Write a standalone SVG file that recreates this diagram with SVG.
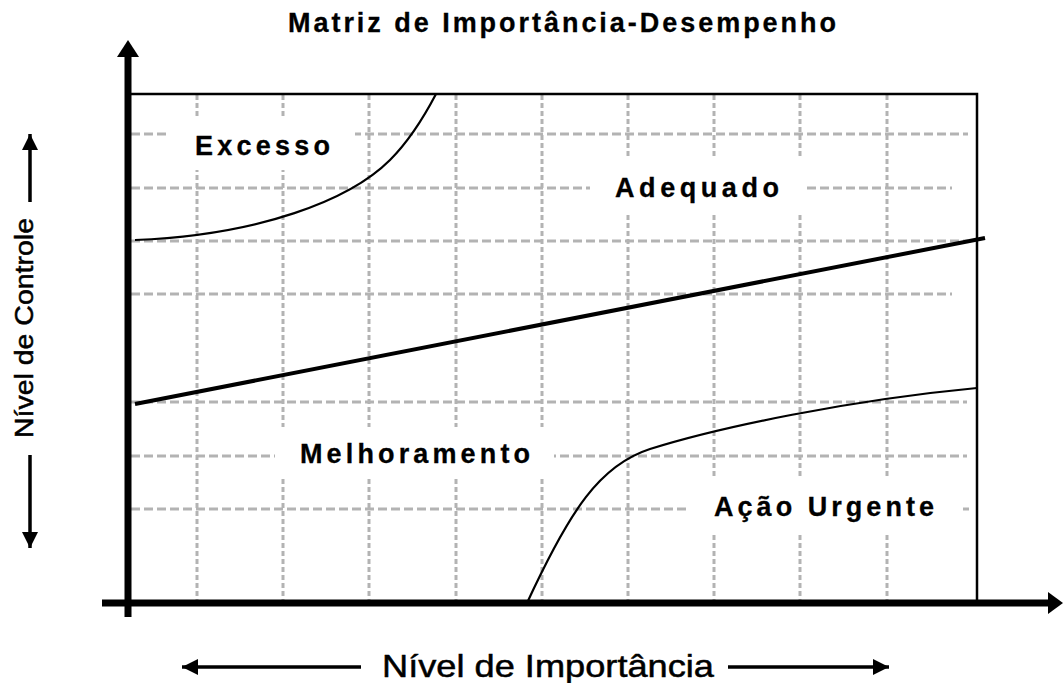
<svg xmlns="http://www.w3.org/2000/svg" width="1063" height="683" viewBox="0 0 1063 683">
  <defs>
    <marker id="ah" viewBox="0 0 10 10" refX="10" refY="5" markerUnits="userSpaceOnUse" markerWidth="17" markerHeight="16" orient="auto-start-reverse">
      <path d="M0,0 L10,5 L0,10 z" fill="#000"/>
    </marker>
  </defs>
  <style>
    .h { stroke: #b3b3b3; stroke-width: 3; stroke-dasharray: 9 4; fill: none; }
    .v { stroke: #b3b3b3; stroke-width: 3; stroke-dasharray: 5 3; fill: none; }
    .ko { fill: #fff; stroke: none; }
    .curve { stroke: #000; stroke-width: 2.2; fill: none; }
    .box { stroke: #000; stroke-width: 2.5; fill: none; }
    .axis { stroke: #000; stroke-width: 7; fill: none; }
    .lbl { font-family: "Liberation Sans", Arial, sans-serif; font-weight: bold; font-size: 27px; fill: #000; stroke: #000; stroke-width: 0.3; }
    .ttl { font-family: "Liberation Sans", Arial, sans-serif; font-weight: bold; font-size: 27px; fill: #000; stroke: #000; stroke-width: 0.3; }
    .ax { font-family: "Liberation Sans", Arial, sans-serif; font-size: 32px; fill: #000; stroke: #000; stroke-width: 0.5; }
    .la { stroke: #000; stroke-width: 3.5; fill: none; marker-end: url(#ah); }
  </style>
  <rect width="1063" height="683" fill="#fff"/>

  <g id="grid">
    <line class="h" x1="131" y1="134" x2="968" y2="134"/>
    <line class="h" x1="131" y1="188" x2="952" y2="188"/>
    <line class="h" x1="131" y1="241" x2="968" y2="241"/>
    <line class="h" x1="131" y1="294" x2="952" y2="294"/>
    <line class="h" x1="131" y1="402" x2="967" y2="402"/>
    <line class="h" x1="131" y1="456" x2="967" y2="456"/>
    <line class="h" x1="131" y1="509" x2="969" y2="509"/>
    <line class="v" x1="197" y1="95" x2="197" y2="603"/>
    <line class="v" x1="283" y1="95" x2="283" y2="603"/>
    <line class="v" x1="369" y1="95" x2="369" y2="603"/>
    <line class="v" x1="456" y1="95" x2="456" y2="603"/>
    <line class="v" x1="542" y1="95" x2="542" y2="603"/>
    <line class="v" x1="628" y1="95" x2="628" y2="603"/>
    <line class="v" x1="714" y1="95" x2="714" y2="603"/>
    <line class="v" x1="800" y1="95" x2="800" y2="603"/>
    <line class="v" x1="887" y1="95" x2="887" y2="603"/>
    <rect class="ko" x="168" y="118" width="187" height="52"/>
    <rect class="ko" x="590" y="158" width="215" height="55"/>
    <rect class="ko" x="275" y="427" width="279" height="51"/>
    <rect class="ko" x="689" y="478" width="270" height="54"/>
  </g>

  <g id="frame">
    <polyline class="box" points="128,94 977,94 977,603"/>
  </g>

  <g id="connectors">
    <path id="curve-excesso" class="curve" d="M135,240 C260,235 350,200 390,160 C410,140 425,115 436,94"/>
    <path id="curve-urgente" class="curve" d="M527,603 C570,510 600,465 650,449 C720,427 850,400 977,388"/>
    <line id="diagonal" x1="135" y1="404" x2="985" y2="238" stroke="#000" stroke-width="4"/>
  </g>

  <g id="axes">
    <line class="axis" x1="128" y1="617" x2="128" y2="55"/>
    <polygon points="117,57 128,40 139,57" fill="#000"/>
    <line class="axis" x1="102" y1="603" x2="1050" y2="603"/>
    <polygon points="1048,592 1063,603 1048,614" fill="#000"/>
  </g>

  <g id="title">
    <text class="ttl" x="288" y="32" textLength="548">Matriz de Importância-Desempenho</text>
  </g>
  <g id="excesso">
    <text class="lbl" x="195" y="155" textLength="135">Excesso</text>
  </g>
  <g id="adequado">
    <text class="lbl" x="615" y="197" textLength="164">Adequado</text>
  </g>
  <g id="melhoramento">
    <text class="lbl" x="300" y="463" textLength="230">Melhoramento</text>
  </g>
  <g id="acao-urgente">
    <text class="lbl" x="714" y="516" textLength="220">Ação Urgente</text>
  </g>

  <g id="x-label">
    <line class="la" x1="361" y1="667" x2="182" y2="667"/>
    <text class="ax" x="382" y="677" textLength="332" lengthAdjust="spacingAndGlyphs">Nível de Importância</text>
    <line class="la" x1="728" y1="667" x2="889" y2="667"/>
  </g>
  <g id="y-label">
    <line class="la" x1="30" y1="202" x2="30" y2="134"/>
    <text class="ax" transform="translate(33,438) rotate(-90)" x="0" y="0" textLength="220" lengthAdjust="spacingAndGlyphs" style="font-size:25px">Nível de Controle</text>
    <line class="la" x1="30" y1="455" x2="30" y2="548"/>
  </g>
</svg>
